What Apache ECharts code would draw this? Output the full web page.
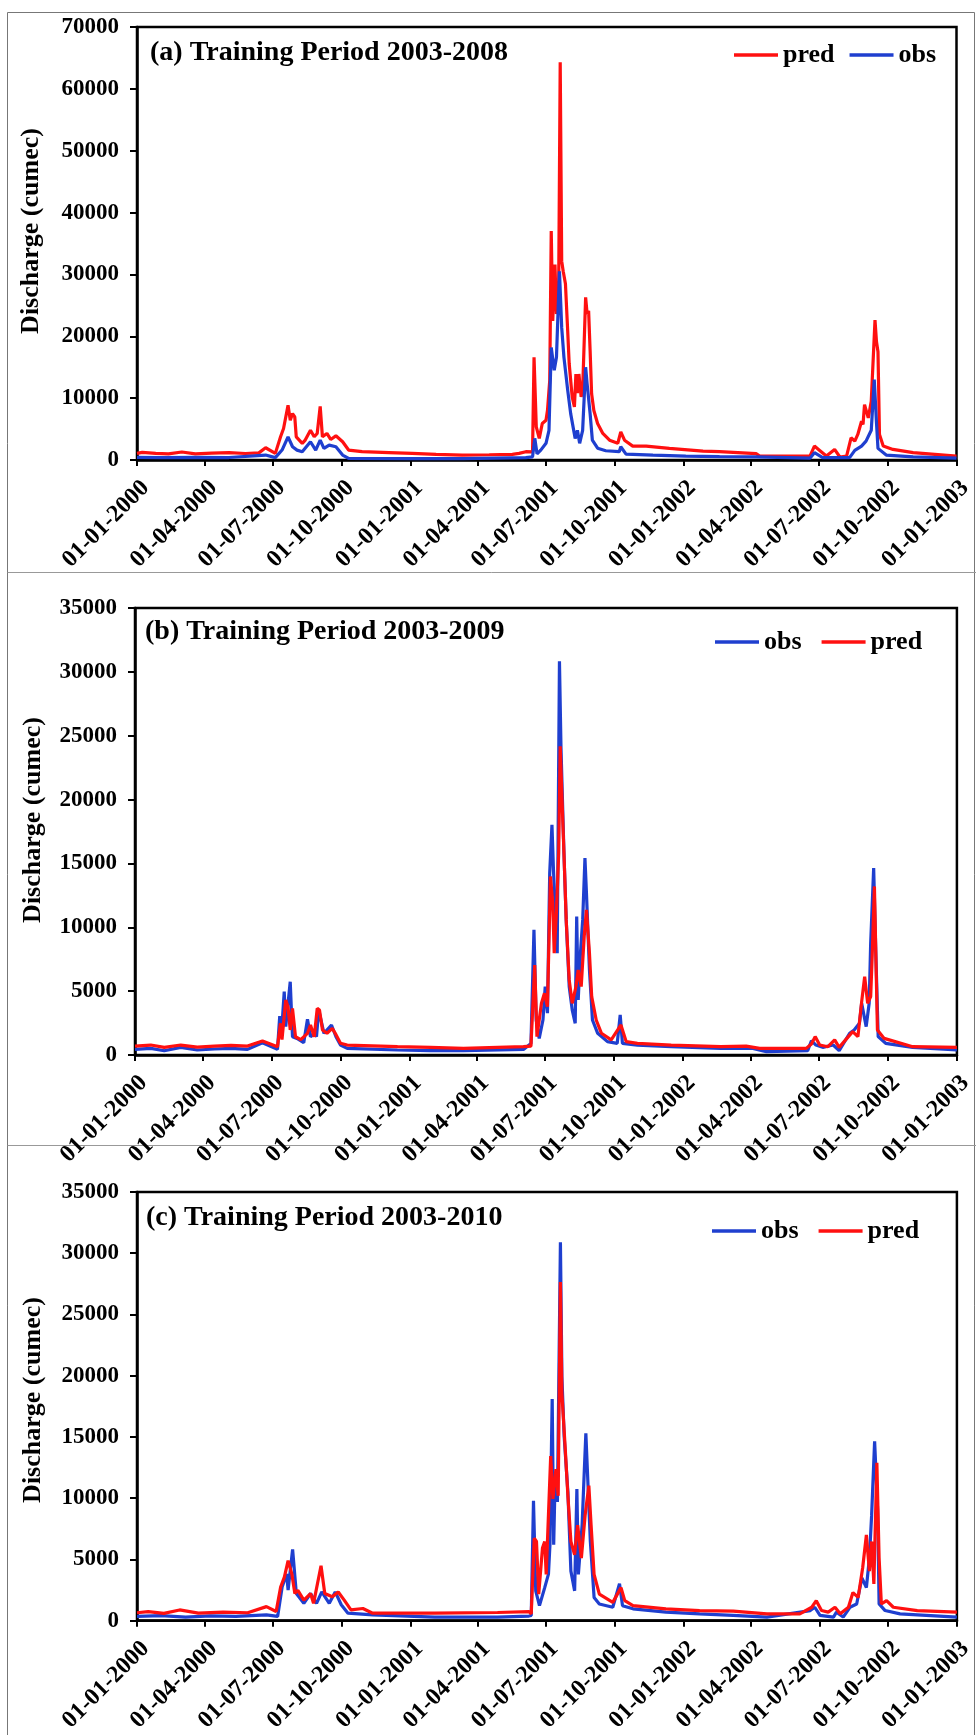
<!DOCTYPE html>
<html><head><meta charset="utf-8">
<script src="https://cdn.jsdelivr.net/npm/echarts@6/dist/echarts.min.js"></script>
<style>html,body{margin:0;padding:0;background:#fff;}#c{width:976px;height:1735px;}</style>
</head><body><div id="c"></div><script>
const tickDates = ['2000-01-01','2000-04-01','2000-07-01','2000-10-01','2001-01-01','2001-04-01','2001-07-01','2001-10-01','2002-01-01','2002-04-01','2002-07-01','2002-10-01','2003-01-01'];
const panelTitles = ['(a) Training Period 2003-2008','(b) Training Period 2003-2009','(c) Training Period 2003-2010'];
const yMax = [70000, 35000, 35000];
const yStep = [10000, 5000, 5000];

const predA = [['2000-01-01',1070],['2000-01-08',1230],['2000-01-26',1070],['2000-02-12',1000],['2000-03-01',1290],['2000-03-19',980],['2000-04-10',1100],['2000-05-03',1180],['2000-05-25',1050],['2000-06-12',1150],['2000-06-21',1980],['2000-07-04',1070],['2000-07-11',3750],['2000-07-15',5100],['2000-07-21',8850],['2000-07-24',6430],['2000-07-27',7500],['2000-07-30',6970],['2000-08-01',3750],['2000-08-09',2680],['2000-08-13',3220],['2000-08-20',4820],['2000-08-25',3750],['2000-08-29',4290],['2000-09-02',8680],['2000-09-05',3750],['2000-09-11',4290],['2000-09-16',3320],['2000-09-23',3910],['2000-10-02',2950],['2000-10-10',1610],['2000-10-28',1340],['2000-12-03',1200],['2001-01-03',1070],['2001-02-04',900],['2001-03-11',800],['2001-04-16',850],['2001-05-17',910],['2001-05-26',1070],['2001-06-04',1340],['2001-06-13',1300],['2001-06-15',16600],['2001-06-18',5350],['2001-06-22',3480],['2001-06-26',5900],['2001-07-01',6430],['2001-07-03',8040],['2001-07-06',12860],['2001-07-08',37000],['2001-07-10',22500],['2001-07-13',31600],['2001-07-15',23600],['2001-07-18',28900],['2001-07-20',64300],['2001-07-22',32150],['2001-07-24',30500],['2001-07-27',28500],['2001-07-30',20900],['2001-08-01',15600],['2001-08-05',10200],['2001-08-08',8600],['2001-08-10',13900],['2001-08-12',10800],['2001-08-14',13900],['2001-08-17',10200],['2001-08-19',11300],['2001-08-23',26300],['2001-08-25',23600],['2001-08-27',24100],['2001-08-29',17700],['2001-08-31',10700],['2001-09-03',8000],['2001-09-08',5900],['2001-09-15',4290],['2001-09-24',3200],['2001-10-05',2700],['2001-10-09',4550],['2001-10-14',3200],['2001-10-25',2250],['2001-11-12',2250],['2001-12-13',1880],['2002-01-27',1450],['2002-02-18',1340],['2002-04-08',1020],['2002-04-13',640],['2002-06-19',640],['2002-06-25',2250],['2002-07-02',1550],['2002-07-11',640],['2002-07-22',1710],['2002-07-29',480],['2002-08-07',640],['2002-08-13',3590],['2002-08-18',3050],['2002-08-22',4130],['2002-08-27',6270],['2002-08-29',5740],['2002-08-31',8950],['2002-09-05',6800],['2002-09-09',9490],['2002-09-14',22620],['2002-09-16',19100],['2002-09-18',17500],['2002-09-20',4130],['2002-09-25',2250],['2002-10-08',1710],['2002-11-04',1180],['2003-01-01',640]];

const obsA = [['2000-01-01',430],['2000-02-03',380],['2000-03-19',430],['2000-05-03',400],['2000-06-21',800],['2000-07-04',380],['2000-07-13',1610],['2000-07-21',3750],['2000-07-27',2140],['2000-08-02',1600],['2000-08-09',1340],['2000-08-20',2950],['2000-08-27',1610],['2000-09-02',3220],['2000-09-07',1880],['2000-09-14',2410],['2000-09-23',2140],['2000-10-02',800],['2000-10-10',270],['2001-01-03',215],['2001-03-11',220],['2001-06-04',375],['2001-06-13',500],['2001-06-16',3500],['2001-06-19',1000],['2001-06-24',1600],['2001-07-01',2700],['2001-07-05',4800],['2001-07-08',18200],['2001-07-12',14500],['2001-07-15',16600],['2001-07-19',30500],['2001-07-22',21400],['2001-07-25',16600],['2001-07-30',11300],['2001-08-03',7500],['2001-08-09',3480],['2001-08-12',4800],['2001-08-15',2700],['2001-08-19',4800],['2001-08-23',15000],['2001-08-25',12300],['2001-08-29',7500],['2001-09-01',3200],['2001-09-08',1900],['2001-09-19',1500],['2001-10-07',1340],['2001-10-09',2140],['2001-10-16',960],['2001-11-21',800],['2002-01-04',640],['2002-02-18',530],['2002-04-08',500],['2002-06-19',300],['2002-06-25',1180],['2002-07-06',400],['2002-08-11',380],['2002-08-18',1550],['2002-08-27',2250],['2002-09-02',3050],['2002-09-09',4800],['2002-09-13',13000],['2002-09-16',6000],['2002-09-18',1880],['2002-09-29',800],['2002-11-04',500],['2003-01-01',300]];

const obsB = [['2000-01-01',440],['2000-01-22',520],['2000-02-09',330],['2000-03-02',600],['2000-03-24',390],['2000-04-16',470],['2000-05-08',520],['2000-05-30',440],['2000-06-19',965],['2000-07-09',440],['2000-07-12',3050],['2000-07-14',1430],['2000-07-18',4960],['2000-07-20',2220],['2000-07-26',5740],['2000-07-29',1430],['2000-08-04',1300],['2000-08-13',965],['2000-08-18',2790],['2000-08-22',1430],['2000-08-27',1700],['2000-08-30',1430],['2000-09-02',3520],['2000-09-09',1700],['2000-09-19',2350],['2000-09-25',1430],['2000-10-01',780],['2000-10-10',520],['2000-12-16',390],['2001-01-29',350],['2001-03-14',340],['2001-06-02',440],['2001-06-12',910],['2001-06-16',9800],['2001-06-19',2740],['2001-06-23',1300],['2001-06-28',2740],['2001-07-01',5360],['2001-07-04',3270],['2001-07-07',14240],['2001-07-10',18030],['2001-07-12',14500],['2001-07-15',10580],['2001-07-17',7970],['2001-07-20',30830],['2001-07-22',24170],['2001-07-26',15800],['2001-07-29',10580],['2001-08-02',5360],['2001-08-06',3530],['2001-08-10',2480],['2001-08-12',10840],['2001-08-14',4310],['2001-08-17',7970],['2001-08-20',10580],['2001-08-23',15420],['2001-08-25',12670],['2001-08-29',6660],['2001-09-02',2740],['2001-09-09',1700],['2001-09-22',1045],['2001-10-05',915],['2001-10-09',3140],['2001-10-12',915],['2001-11-01',780],['2001-12-16',650],['2002-02-20',520],['2002-04-04',520],['2002-04-22',260],['2002-06-16',340],['2002-06-21',1120],['2002-06-27',780],['2002-07-06',600],['2002-07-20',780],['2002-07-28',340],['2002-08-11',1700],['2002-08-17',1960],['2002-08-24',2480],['2002-08-27',4050],['2002-09-02',2220],['2002-09-06',4050],['2002-09-08',8750],['2002-09-12',14630],['2002-09-15',7700],['2002-09-18',1440],['2002-09-28',915],['2002-11-03',600],['2003-01-01',390]];

const predB = [['2000-01-01',700],['2000-01-22',780],['2000-02-09',600],['2000-03-02',780],['2000-03-24',620],['2000-04-16',700],['2000-05-08',760],['2000-05-30',700],['2000-06-19',1100],['2000-07-09',650],['2000-07-13',2480],['2000-07-15',1200],['2000-07-20',4300],['2000-07-23',3780],['2000-07-26',1960],['2000-07-29',3650],['2000-08-02',1430],['2000-08-09',1200],['2000-08-18',1700],['2000-08-22',2350],['2000-08-27',1430],['2000-08-31',3650],['2000-09-03',3520],['2000-09-07',1960],['2000-09-13',1700],['2000-09-20',2090],['2000-09-24',1700],['2000-10-01',915],['2000-10-10',780],['2000-12-16',650],['2001-01-29',600],['2001-03-14',520],['2001-06-02',650],['2001-06-12',700],['2001-06-17',7050],['2001-06-20',1440],['2001-06-26',4050],['2001-06-30',4830],['2001-07-04',3790],['2001-07-08',13980],['2001-07-11',11890],['2001-07-13',7970],['2001-07-16',11230],['2001-07-19',15800],['2001-07-21',24170],['2001-07-23',20770],['2001-07-26',15800],['2001-07-29',10580],['2001-08-02',5880],['2001-08-06',4050],['2001-08-11',5360],['2001-08-14',6660],['2001-08-18',5360],['2001-08-22',9280],['2001-08-25',11370],['2001-08-29',7970],['2001-09-01',4570],['2001-09-07',2740],['2001-09-14',1700],['2001-09-27',1180],['2001-10-10',2350],['2001-10-17',1045],['2001-11-01',915],['2001-12-16',780],['2002-02-20',650],['2002-03-26',700],['2002-04-13',520],['2002-06-14',520],['2002-06-21',860],['2002-06-26',1440],['2002-07-02',780],['2002-07-13',650],['2002-07-22',1180],['2002-07-28',600],['2002-08-15',1830],['2002-08-22',1440],['2002-08-27',4180],['2002-08-31',6140],['2002-09-04',4050],['2002-09-08',4570],['2002-09-10',7700],['2002-09-13',13200],['2002-09-17',1960],['2002-09-26',1300],['2002-11-03',650],['2003-01-01',600]];

const obsC = [['2000-01-01',350],['2000-02-02',420],['2000-03-06',300],['2000-04-08',400],['2000-05-12',350],['2000-06-22',480],['2000-07-07',350],['2000-07-13',2750],['2000-07-19',3820],['2000-07-21',2500],['2000-07-27',5830],['2000-08-01',2220],['2000-08-11',1420],['2000-08-20',2220],['2000-08-28',1420],['2000-09-04',2350],['2000-09-14',1420],['2000-09-22',2350],['2000-09-30',1300],['2000-10-09',615],['2000-11-11',480],['2001-02-02',300],['2001-04-27',300],['2001-06-08',380],['2001-06-11',430],['2001-06-14',9800],['2001-06-17',2440],['2001-06-22',1230],['2001-06-29',2700],['2001-07-04',3800],['2001-07-06',6200],['2001-07-09',18100],['2001-07-11',6200],['2001-07-13',11800],['2001-07-16',9700],['2001-07-20',30900],['2001-07-22',19900],['2001-07-25',15050],['2001-07-30',10500],['2001-08-03',4050],['2001-08-08',2440],['2001-08-11',10760],['2001-08-13',3780],['2001-08-18',7800],['2001-08-21',12370],['2001-08-23',15300],['2001-08-25',12370],['2001-08-29',6470],['2001-09-03',1900],['2001-09-10',1370],['2001-09-28',1100],['2001-10-07',3030],['2001-10-11',1230],['2001-10-25',970],['2001-12-08',700],['2002-01-22',560],['2002-03-08',430],['2002-04-22',300],['2002-06-19',830],['2002-06-25',1100],['2002-07-02',430],['2002-07-20',300],['2002-07-24',700],['2002-08-02',300],['2002-08-11',1100],['2002-08-20',1370],['2002-08-27',3500],['2002-09-02',2700],['2002-09-06',5100],['2002-09-09',8600],['2002-09-13',14650],['2002-09-17',9100],['2002-09-19',1370],['2002-09-27',830],['2002-10-17',560],['2003-01-01',300]];

const predC = [['2000-01-01',650],['2000-01-16',750],['2000-02-06',600],['2000-02-27',880],['2000-03-23',620],['2000-04-25',700],['2000-05-28',650],['2000-06-22',1150],['2000-07-05',750],['2000-07-11',2750],['2000-07-16',3560],['2000-07-21',4900],['2000-07-26',3820],['2000-07-30',2220],['2000-08-03',2490],['2000-08-11',1680],['2000-08-20',2220],['2000-08-24',1420],['2000-09-03',4490],['2000-09-08',2220],['2000-09-18',1950],['2000-09-26',2350],['2000-10-04',1680],['2000-10-13',880],['2000-10-29',1000],['2000-11-11',615],['2001-02-02',615],['2001-04-27',670],['2001-06-08',750],['2001-06-11',560],['2001-06-15',6730],['2001-06-18',6470],['2001-06-21',2170],['2001-06-26',5930],['2001-06-29',6470],['2001-07-01',3780],['2001-07-07',13440],['2001-07-10',9950],['2001-07-14',12370],['2001-07-17',10200],['2001-07-20',27660],['2001-07-22',18540],['2001-07-26',14500],['2001-07-30',10200],['2001-08-03',6470],['2001-08-08',5390],['2001-08-12',7800],['2001-08-17',5120],['2001-08-22',8610],['2001-08-27',11030],['2001-08-30',7800],['2001-09-03',3780],['2001-09-10',2170],['2001-09-28',1500],['2001-10-09',2700],['2001-10-14',1640],['2001-10-25',1230],['2001-12-08',970],['2002-01-22',830],['2002-03-08',780],['2002-04-22',560],['2002-06-05',560],['2002-06-21',1100],['2002-06-27',1640],['2002-07-04',830],['2002-07-13',700],['2002-07-22',1100],['2002-07-29',560],['2002-08-09',1100],['2002-08-15',2300],['2002-08-22',1900],['2002-08-28',4300],['2002-09-02',7000],['2002-09-06',4050],['2002-09-09',6470],['2002-09-12',3000],['2002-09-16',12900],['2002-09-19',5120],['2002-09-22',1370],['2002-09-29',1640],['2002-10-08',1100],['2002-11-09',830],['2003-01-01',700]];

const FONT = '"Liberation Serif","Times New Roman",serif';
const RED = '#ff1010';
const BLUE = '#1f3fcf';

// day number counted from 2000-01-01 (UTC based, no DST drift)
const DAY0 = Date.UTC(2000, 0, 1);
function dnum(s){ const p = s.split('-'); return Math.round((Date.UTC(+p[0], +p[1]-1, +p[2]) - DAY0) / 86400000); }
function conv(arr){ return arr.map(d => [dnum(d[0]), d[1]]); }
function fmt(v){ const d = new Date(DAY0 + Math.round(v) * 86400000); const p = n => (n < 10 ? '0' : '') + n; return p(d.getUTCDate()) + '-' + p(d.getUTCMonth()+1) + '-' + d.getUTCFullYear(); }
const tickVals = tickDates.map(dnum);

const grids = [
  {left:137, right:19.5, top:27, height:433},
  {left:135, right:18, top:608, height:447},
  {left:137, right:18, top:1192, height:435}
].map(g => Object.assign(g, {show:true, borderColor:'#000', borderWidth:2.5, backgroundColor:'transparent'}));

const xAxes = [0,1,2].map(i => ({
  type:'value', gridIndex:i, min:tickVals[0], max:tickVals[tickVals.length-1],
  axisLine:{show:true, onZero:false, lineStyle:{color:'#000', width:2.5}},
  axisTick:{show:true, customValues:tickVals, length:6, lineStyle:{color:'#000', width:2}},
  axisLabel:{customValues:tickVals, formatter:fmt, rotate:45, margin:16, verticalAlign:'top',
    fontFamily:FONT, fontWeight:'bold', fontSize:24, color:'#000'},
  splitLine:{show:false}, minorTick:{show:false}
}));

const yAxes = [0,1,2].map(i => ({
  type:'value', gridIndex:i, min:0, max:yMax[i], interval:yStep[i],
  axisLine:{show:true, lineStyle:{color:'#000', width:2.5}},
  axisTick:{show:true, length:7, lineStyle:{color:'#000', width:2}},
  axisLabel:{margin:18, formatter:v => String(v), fontFamily:FONT, fontWeight:'bold', fontSize:23, color:'#000'},
  splitLine:{show:false}
}));

function line(name, data, idx, color){
  return {type:'line', name:name, xAxisIndex:idx, yAxisIndex:idx, data:conv(data),
    showSymbol:false, symbol:'none', lineStyle:{color:color, width:3.2}, itemStyle:{color:color},
    emphasis:{disabled:true}, animation:false};
}
const series = [
  line('pred', predA, 0, RED), line('obs', obsA, 0, BLUE),
  line('obs', obsB, 1, BLUE), line('pred', predB, 1, RED),
  line('obs', obsC, 2, BLUE), line('pred', predC, 2, RED)
];

const legStyle = {fontFamily:FONT, fontWeight:'bold', fontSize:26, color:'#000'};
const legends = [
  {data:['pred','obs'], left:734, top:42, itemGap:15},
  {data:['obs','pred'], left:715, top:629, itemGap:20},
  {data:['obs','pred'], left:712, top:1218, itemGap:20}
].map(l => Object.assign(l, {orient:'horizontal', icon:'rect', itemWidth:44, itemHeight:3.5, padding:0,
  selectedMode:false, textStyle:legStyle}));

const tStyle = {fontFamily:FONT, fontWeight:'bold', fontSize:28, fill:'#000', align:'left', verticalAlign:'middle'};
const yStyle = {fontFamily:FONT, fontWeight:'bold', fontSize:26, fill:'#000', align:'center', verticalAlign:'middle'};
const titlePos = [[150,53],[145,632],[146,1218]];
const yNamePos = [[31,231],[33,820],[33,1400]];
const graphic = [
  {type:'rect', silent:true, shape:{x:7.5, y:12.5, width:967, height:1730}, style:{fill:null, stroke:'#777', lineWidth:1}},
  {type:'line', silent:true, shape:{x1:7.5, y1:572.5, x2:976, y2:572.5}, style:{stroke:'#999', lineWidth:1}},
  {type:'line', silent:true, shape:{x1:7.5, y1:1145.5, x2:976, y2:1145.5}, style:{stroke:'#999', lineWidth:1}}
];
panelTitles.forEach((t, i) => {
  graphic.push({type:'text', silent:true, x:titlePos[i][0], y:titlePos[i][1], style:Object.assign({text:t}, tStyle)});
  graphic.push({type:'text', silent:true, x:yNamePos[i][0], y:yNamePos[i][1], rotation:Math.PI/2,
    style:Object.assign({text:'Discharge (cumec)'}, yStyle)});
});

const chart = echarts.init(document.getElementById('c'), null, {renderer:'canvas'});
chart.setOption({
  animation:false, backgroundColor:'#fff',
  grid:grids, xAxis:xAxes, yAxis:yAxes, series:series, legend:legends, graphic:graphic
});
</script></body></html>
